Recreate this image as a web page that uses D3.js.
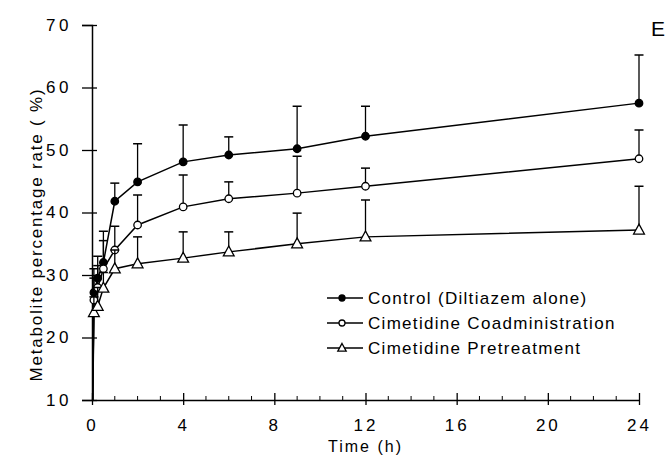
<!DOCTYPE html>
<html>
<head>
<meta charset="utf-8">
<script src="https://cdn.jsdelivr.net/npm/d3@7"></script>
<style>
  body { margin: 0; background: #fff; }
  text { font-family: "Liberation Sans", Arial, sans-serif; fill: #000; }
</style>
</head>
<body>
<svg id="chart" width="670" height="459"></svg>
<script>
const width = 670;
const height = 459;
const margin = { top: 25, right: 31, bottom: 59, left: 92 };

// sampling times (h); 0 is the pre-dose start of each curve
const times = [0, 0.083, 0.25, 0.5, 1, 2, 4, 6, 9, 12, 24];

const controlMean = [0, 27.2, 29.5, 32.0, 41.8, 44.9, 48.1, 49.2, 50.2, 52.2, 57.5];
const controlSD   = [0, 3.8, 3.5, 5.0, 2.9, 6.1, 5.9, 2.9, 6.8, 4.8, 7.7];

const coadminMean = [0, 26.0, 28.0, 31.0, 34.0, 38.0, 40.9, 42.2, 43.1, 44.2, 48.6];
const coadminSD   = [0, 3.5, 3.5, 4.5, 3.8, 4.8, 5.1, 2.7, 5.9, 2.9, 4.6];

const pretreatMean = [0, 24.0, 25.0, 27.9, 31.0, 31.8, 32.7, 33.7, 35.0, 36.1, 37.2];
const pretreatSD   = [0, 2.5, 3.0, 2.5, 3.0, 4.3, 4.2, 3.2, 4.9, 5.9, 7.0];

const seriesNames = ["Control (Diltiazem alone)", "Cimetidine Coadministration", "Cimetidine Pretreatment"];
const xTicks = [0, 4, 8, 12, 16, 20, 24];
const yTicks = [10, 20, 30, 40, 50, 60, 70];

const series = [
    { name: seriesNames[0], mean: controlMean, sd: controlSD, marker: "filled" },
    { name: seriesNames[1], mean: coadminMean, sd: coadminSD, marker: "open" },
    { name: seriesNames[2], mean: pretreatMean, sd: pretreatSD, marker: "triangle" }
];

const svg = d3.select("#chart");

const xScale = d3.scaleLinear().domain([0, 24]).range([margin.left, width - margin.right]);
const yScale = d3.scaleLinear().domain([10, 70]).range([height - margin.bottom, margin.top]);

// clip so the curves' pre-dose start stops at the x axis
svg.append("clipPath").attr("id", "plotclip")
    .append("rect")
    .attr("x", margin.left - 2).attr("y", 0)
    .attr("width", width).attr("height", yScale(10));

// Y axis with cross ticks
const yAxis = svg.append("g")
    .attr("transform", `translate(${margin.left},0)`)
    .call(d3.axisLeft(yScale).tickValues(yTicks).tickSize(10).tickPadding(10).tickFormat(d3.format("d")));
yAxis.select(".domain").attr("stroke-width", 1.5);
yAxis.selectAll(".tick line").attr("stroke-width", 1.3);
yAxis.selectAll(".tick").append("line").attr("x2", 5).attr("stroke", "#000").attr("stroke-width", 1.3);
yAxis.selectAll(".tick text")
    .style("font-size", "17px").style("letter-spacing", "3.5px");

// X axis: major ticks every 4 h, minor every hour
const xAxis = svg.append("g")
    .attr("transform", `translate(0,${yScale(10)})`)
    .call(d3.axisBottom(xScale).tickValues(xTicks).tickSize(5).tickPadding(14).tickSizeOuter(0));
xAxis.select(".domain").attr("stroke-width", 1.5);
xAxis.selectAll(".tick line").attr("stroke-width", 1.3);
xAxis.selectAll(".tick").append("line").attr("y2", -7).attr("stroke", "#000").attr("stroke-width", 1.3);
xAxis.selectAll(".tick text")
    .style("font-size", "17px").style("letter-spacing", "3px");
xAxis.selectAll(".minor")
    .data(d3.range(1, 24).filter(h => h % 4 !== 0))
    .enter().append("line")
    .attr("x1", d => xScale(d)).attr("x2", d => xScale(d))
    .attr("y1", 0).attr("y2", -4)
    .attr("stroke", "#000").attr("stroke-width", 1);

// axis titles
svg.append("text")
    .attr("x", (xScale(0) + xScale(24)) / 2)
    .attr("y", 452)
    .attr("text-anchor", "middle")
    .style("font-size", "16px").style("letter-spacing", "2px")
    .text("Time (h)");

svg.append("text")
    .attr("transform", `translate(42,${(yScale(10) + yScale(70)) / 2 + 22}) rotate(-90)`)
    .attr("text-anchor", "middle")
    .style("font-size", "17px").style("letter-spacing", "1.8px")
    .text("Metabolite percentage rate ( %)");

svg.append("text")
    .attr("x", 651).attr("y", 36)
    .style("font-size", "21px")
    .text("E");

function drawMarker(g, type, x, y, size) {
    if (type === "triangle") {
        const s = size;
        g.append("path")
            .attr("d", `M${x},${y - s * 0.65}L${x + s * 0.6},${y + s * 0.45}L${x - s * 0.6},${y + s * 0.45}Z`)
            .attr("fill", "#fff").attr("stroke", "#000").attr("stroke-width", 1.3);
    } else {
        g.append("circle")
            .attr("cx", x).attr("cy", y).attr("r", size / 2)
            .attr("fill", type === "filled" ? "#000" : "#fff")
            .attr("stroke", "#000").attr("stroke-width", 1.3);
    }
}

const line = d3.line()
    .x((d, i) => xScale(times[i]))
    .y(d => yScale(d));

series.forEach(s => {
    const g = svg.append("g");

    // error bars (upper only)
    times.forEach((t, i) => {
        if (t === 0) return;
        const x = xScale(t);
        g.append("line")
            .attr("x1", x).attr("x2", x)
            .attr("y1", yScale(s.mean[i])).attr("y2", yScale(s.mean[i] + s.sd[i]))
            .attr("stroke", "#000").attr("stroke-width", 1.3);
        g.append("line")
            .attr("x1", x - 4.5).attr("x2", x + 4.5)
            .attr("y1", yScale(s.mean[i] + s.sd[i])).attr("y2", yScale(s.mean[i] + s.sd[i]))
            .attr("stroke", "#000").attr("stroke-width", 1.5);
    });

    g.append("path")
        .datum(s.mean)
        .attr("d", line)
        .attr("clip-path", "url(#plotclip)")
        .attr("fill", "none")
        .attr("stroke", "#000")
        .attr("stroke-width", 1.5);

    times.forEach((t, i) => {
        if (t === 0) return;
        drawMarker(g, s.marker, xScale(t), yScale(s.mean[i]), s.marker === "triangle" ? 9 : 7.5);
    });
});

// legend
const legend = svg.append("g").attr("transform", "translate(327,298)");
series.forEach((s, i) => {
    const row = legend.append("g").attr("transform", `translate(0,${i * 25})`);
    row.append("line").attr("x1", 0).attr("x2", 36).attr("y1", 0).attr("y2", 0)
        .attr("stroke", "#000").attr("stroke-width", 1.5);
    drawMarker(row, s.marker, 15, 0, s.marker === "triangle" ? 7 : 6);
    row.append("text")
        .attr("x", 41).attr("y", 6)
        .style("font-size", "17px").style("letter-spacing", "1.3px")
        .text(s.name);
});
</script>
</body>
</html>
